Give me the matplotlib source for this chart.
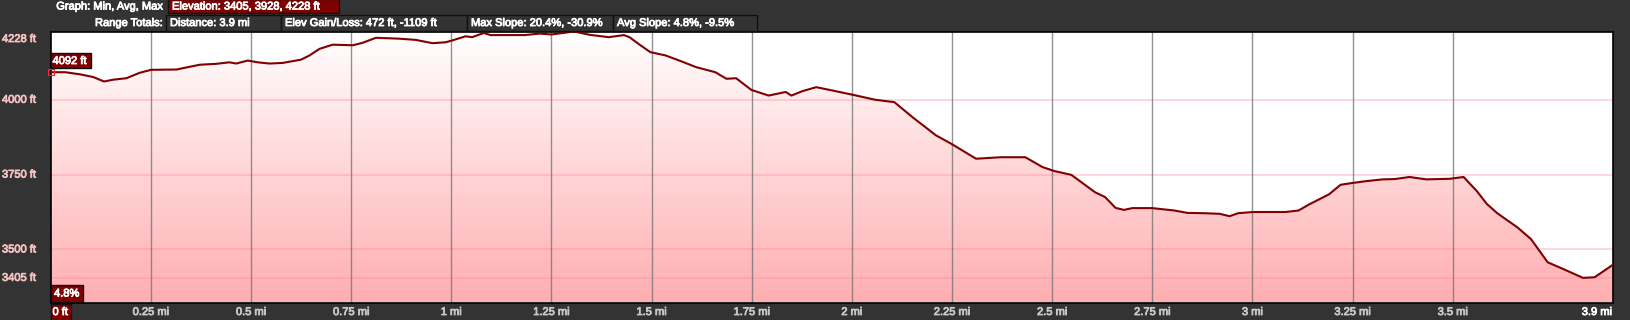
import numpy as np
import matplotlib
matplotlib.use("Agg")
import matplotlib.pyplot as plt
import matplotlib.patheffects as pe
from matplotlib.patches import Rectangle, Polygon
from matplotlib.colors import LinearSegmentedColormap
from matplotlib.transforms import blended_transform_factory, offset_copy

plt.rcParams["font.family"] = ["Liberation Sans", "DejaVu Sans"]

# elevation profile
dist_mi = [0.0, 0.036, 0.073, 0.106, 0.133, 0.156, 0.189, 0.222, 0.251, 0.314,
           0.372, 0.413, 0.446, 0.463, 0.492, 0.517, 0.546, 0.579, 0.625, 0.646,
           0.671, 0.704, 0.754, 0.778, 0.812, 0.870, 0.911, 0.953, 0.986, 1.002,
           1.036, 1.052, 1.081, 1.098, 1.117, 1.183, 1.221, 1.25, 1.307, 1.345,
           1.393, 1.431, 1.445, 1.469, 1.497, 1.535, 1.573, 1.611, 1.659, 1.687,
           1.711, 1.749, 1.792, 1.835, 1.849, 1.877, 1.911, 1.944, 2.001, 2.058,
           2.106, 2.153, 2.21, 2.248, 2.31, 2.372, 2.433, 2.476, 2.505, 2.548,
           2.607, 2.632, 2.658, 2.679, 2.70, 2.75, 2.805, 2.838, 2.88, 2.918,
           2.943, 2.964, 3.002, 3.082, 3.115, 3.141, 3.191, 3.22, 3.25, 3.283,
           3.325, 3.355, 3.392, 3.434, 3.493, 3.527, 3.56, 3.585, 3.611, 3.661,
           3.695, 3.737, 3.775, 3.825, 3.854, 3.9]
elev_ft = [4092, 4092, 4085, 4076, 4061, 4067, 4072, 4090, 4100, 4101,
           4117, 4120, 4125, 4121, 4131, 4125, 4121, 4123, 4134, 4148,
           4170, 4184, 4182, 4190, 4207, 4204, 4200, 4189, 4192, 4198,
           4212, 4209, 4223, 4216, 4216, 4216, 4221, 4218, 4228, 4217,
           4209, 4216, 4209, 4185, 4159, 4148, 4129, 4109, 4092, 4070,
           4072, 4033, 4014, 4026, 4014, 4029, 4042, 4033, 4017, 4000,
           3992, 3940, 3881, 3853, 3803, 3808, 3808, 3775, 3762, 3749,
           3691, 3675, 3639, 3632, 3638, 3638, 3630, 3622, 3621, 3619,
           3611, 3621, 3625, 3625, 3630, 3650, 3684, 3716, 3722, 3728,
           3734, 3735, 3742, 3734, 3736, 3742, 3695, 3652, 3621, 3574,
           3535, 3457, 3435, 3405, 3407, 3449]

x_ticks = [0.25, 0.5, 0.75, 1.0, 1.25, 1.5, 1.75, 2.0, 2.25, 2.5, 2.75, 3.0, 3.25, 3.5]
x_tick_labels = ["0.25 mi", "0.5 mi", "0.75 mi", "1 mi", "1.25 mi", "1.5 mi", "1.75 mi",
                 "2 mi", "2.25 mi", "2.5 mi", "2.75 mi", "3 mi", "3.25 mi", "3.5 mi"]
y_ticks = [4228, 4000, 3750, 3500, 3405]
y_tick_labels = ["4228 ft", "4000 ft", "3750 ft", "3500 ft", "3405 ft"]

header_boxes = [
    ("Distance: 3.9 mi", 166, 281),
    ("Elev Gain/Loss: 472 ft, -1109 ft", 281, 467),
    ("Max Slope: 20.4%, -30.9%", 467, 613),
    ("Avg Slope: 4.8%, -9.5%", 613, 757),
]

W, H = 1631, 320
BG = "#333333"
DARKRED = "#800000"
FS = 8


def fx(px):
    return px / W


def fy(py):
    return 1 - py / H


def label(fig, x, y, s, color="white", **kw):
    # slight stroke so the text looks as heavy as the pixel font in the original
    kw.setdefault("transform", fig.transFigure)
    fig.text(x, y, s, color=color, fontsize=FS, va="center",
             path_effects=[pe.withStroke(linewidth=0.6, foreground=color)], **kw)


def fig_box(fig, x0, y0, x1, y1, fc, ec="#111111"):
    fig.patches.append(Rectangle((fx(x0), fy(y1)), fx(x1) - fx(x0), fy(y0) - fy(y1),
                                 transform=fig.transFigure, facecolor=fc,
                                 edgecolor=ec, linewidth=1))


fig = plt.figure(figsize=(W / 100, H / 100), dpi=100, facecolor=BG)

# header
label(fig, fx(163), fy(6.5), "Graph: Min, Avg, Max", ha="right")
fig_box(fig, 168, -1, 339, 13.3, DARKRED)
label(fig, fx(172), fy(6.5), "Elevation: 3405, 3928, 4228 ft", ha="left")
label(fig, fx(163), fy(23), "Range Totals:", ha="right")
for text, x0, x1 in header_boxes:
    fig_box(fig, x0, 15, x1, 30.5, BG)
    label(fig, fx(x0 + 4), fy(23), text, ha="left")

# plot area
left, right, top, bottom = 50.7, 1613, 31.5, 302.5
ax = fig.add_axes([fx(left), fy(bottom), fx(right) - fx(left), fy(top) - fy(bottom)])
ylo = 3405 - 0.1 * (4228 - 3405)
ax.set_xlim(0, 3.9)
ax.set_ylim(ylo, 4228)
ax.set_facecolor("white")

# gradient fill under the profile (pink at the bottom, white at the top)
cmap = LinearSegmentedColormap.from_list("elev", ["#ffffff", "#ffaeb1"])
grad = np.linspace(1, 0, 256).reshape(-1, 1)
im = ax.imshow(grad, extent=[0, 3.9, ylo, 4228], aspect="auto", cmap=cmap,
               origin="lower", vmin=0, vmax=1, zorder=1)
verts = [(dist_mi[0], ylo)] + list(zip(dist_mi, elev_ft)) + [(dist_mi[-1], ylo)]
poly = Polygon(verts, closed=True, facecolor="none", edgecolor="none")
ax.add_patch(poly)
im.set_clip_path(poly)

# grid
for yv in y_ticks[1:]:
    ax.axhline(yv, color="#ff8c99", alpha=0.45, lw=1.1, zorder=2)
for xv in x_ticks:
    ax.axvline(xv, color="#6e6e6e", alpha=0.75, lw=1.0, zorder=2)

ax.plot(dist_mi, elev_ft, color=DARKRED, lw=1.5, zorder=4)
ax.plot([0], [elev_ft[0]], marker="s", ms=4.5, mfc="none", mec="#ff2020",
        mew=0.9, clip_on=False, zorder=5)

ax.set_xticks([])
ax.set_yticks([])
for s in ax.spines.values():
    s.set_color("black")
    s.set_linewidth(1.2)

# y labels
ytr = blended_transform_factory(fig.transFigure, ax.transData)
for yv, lab in zip(y_ticks, y_tick_labels):
    tr = ytr
    if yv == 4228:
        tr = offset_copy(ytr, fig=fig, y=-7.5, units="dots")
    label(fig, fx(2), yv, lab, color="#f4c0c0", transform=tr, ha="left")

# x labels
xtr = blended_transform_factory(ax.transData, fig.transFigure)
for xv, lab in zip(x_ticks, x_tick_labels):
    label(fig, xv, fy(312), lab, color="#c8c8c8", transform=xtr, ha="center")
label(fig, fx(1612), fy(312), "3.9 mi", ha="right")
fig_box(fig, 50.7, 303.5, 71, 321, DARKRED)
label(fig, fx(52.5), fy(312), "0 ft", ha="left")

# marker boxes inside plot
fig_box(fig, 50.7, 53.3, 90.7, 68.3, DARKRED)
label(fig, fx(52.5), fy(61), "4092 ft", ha="left")
fig_box(fig, 50.7, 285, 82.7, 301.7, DARKRED)
label(fig, fx(54), fy(293.5), "4.8%", ha="left")

fig.savefig("out.png", dpi=100, facecolor=BG)
